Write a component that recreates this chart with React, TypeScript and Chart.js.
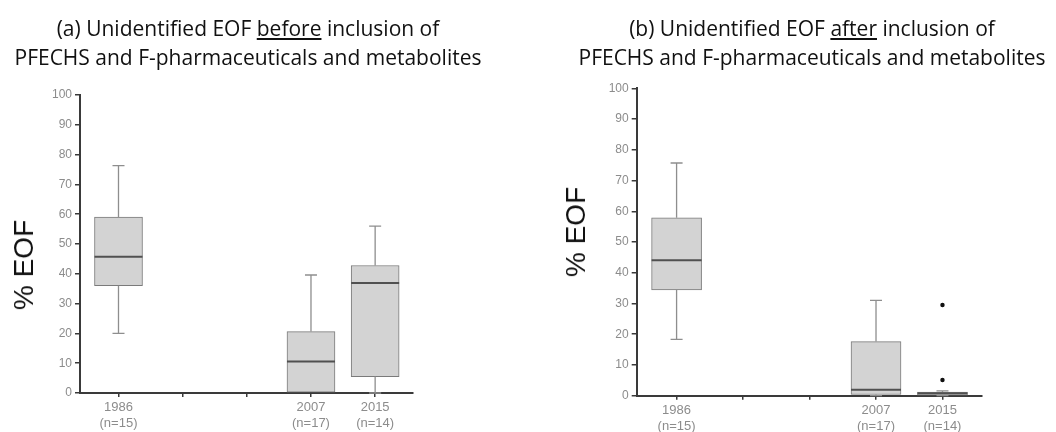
import React, { useEffect, useRef } from "react";
import { Chart, registerables } from "chart.js";

Chart.register(...registerables);

// ---- data ----
const categories = ["1986", "", "", "2007", "2015"];
const sampleSizes = ["(n=15)", "", "", "(n=17)", "(n=14)"];
const boxPositions = [0, 3, 4];

const beforeMin = [20, 0, 0];
const beforeQ1 = [36, 0, 5.5];
const beforeMedian = [45.7, 10.6, 36.9];
const beforeQ3 = [59, 20.6, 42.8];
const beforeMax = [76.3, 39.6, 56];
const beforeOutlierX: number[] = [];
const beforeOutlierY: number[] = [];

const afterMin = [18.3, 0, 0];
const afterQ1 = [34.4, 0.4, 0.2];
const afterMedian = [44.1, 1.9, 0.8];
const afterQ3 = [57.9, 17.6, 1.2];
const afterMax = [75.7, 31, 1.6];
const afterOutlierX = [4, 4];
const afterOutlierY = [29.5, 5.1];

const yMin = 0;
const yMax = 100;
const yStep = 10;

type Area = { left: number; right: number; top: number; bottom: number };

type PanelProps = {
  left: number;
  area: Area;
  boxWidth: number;
  min: number[];
  q1: number[];
  median: number[];
  q3: number[];
  max: number[];
  outX: number[];
  outY: number[];
};

const W = 528;
const H = 432;

function BoxPanel(props: PanelProps) {
  const ref = useRef<HTMLCanvasElement | null>(null);
  useEffect(() => {
    const canvas = ref.current;
    if (!canvas) return;
    const { area, boxWidth, min, q1, median, q3, max, outX, outY } = props;

    const whiskerPlugin = {
      id: "whiskers",
      afterDatasetsDraw(chart: any) {
        const { ctx } = chart;
        const xs = chart.scales.x;
        const ys = chart.scales.y;
        ctx.save();
        boxPositions.forEach((p, i) => {
          const cx = xs.getPixelForValue(p);
          const half = boxWidth / 2;
          const capHalf = 6;
          ctx.strokeStyle = "#8e8e8e";
          ctx.lineWidth = 1.3;
          if (max[i] > q3[i]) {
            const a = ys.getPixelForValue(q3[i]);
            const b = ys.getPixelForValue(max[i]);
            ctx.beginPath();
            ctx.moveTo(cx, a);
            ctx.lineTo(cx, b);
            ctx.moveTo(cx - capHalf, b);
            ctx.lineTo(cx + capHalf, b);
            ctx.stroke();
          }
          if (min[i] < q1[i]) {
            const a = ys.getPixelForValue(q1[i]);
            const b = ys.getPixelForValue(min[i]);
            ctx.beginPath();
            ctx.moveTo(cx, a);
            ctx.lineTo(cx, b);
            ctx.moveTo(cx - capHalf, b);
            ctx.lineTo(cx + capHalf, b);
            ctx.stroke();
          }
          const m = ys.getPixelForValue(median[i]);
          ctx.strokeStyle = "#505050";
          ctx.lineWidth = 2;
          ctx.beginPath();
          ctx.moveTo(cx - half, m);
          ctx.lineTo(cx + half, m);
          ctx.stroke();
        });
        ctx.restore();
      },
    };

    const axisColor = "#3a3a3a";
    const labelColor = "#8c8c8c";

    const chart = new Chart(canvas, {
      type: "bar",
      data: {
        datasets: [
          {
            type: "bar",
            data: boxPositions.map((p, i) => ({ x: p, y: [q1[i], q3[i]] })) as any,
            backgroundColor: "#d3d3d3",
            borderColor: "#7a7a7a",
            borderWidth: 1,
            borderSkipped: false,
            barThickness: boxWidth,
            order: 2,
          } as any,
          {
            type: "scatter",
            data: outX.map((x, i) => ({ x, y: outY[i] })),
            pointRadius: 2.2,
            backgroundColor: "#111111",
            borderWidth: 0,
            order: 1,
          } as any,
        ],
      },
      options: {
        responsive: false,
        animation: false,
        events: [],
        layout: {
          padding: { left: 0, top: area.top, right: W - area.right, bottom: 0 },
        },
        plugins: {
          legend: { display: false },
          tooltip: { enabled: false },
          title: { display: false },
        },
        scales: {
          x: {
            type: "linear",
            min: -0.6,
            max: 4.59,
            offset: false,
            grid: {
              offset: false,
              drawOnChartArea: false,
              drawTicks: true,
              tickLength: 4,
              color: axisColor,
              lineWidth: 1.5,
            },
            border: { display: true, color: axisColor, width: 2 },
            ticks: {
              autoSkip: false,
              maxRotation: 0,
              color: labelColor,
              padding: 3,
              font: { family: "'Liberation Sans', Arial, sans-serif", size: 13 },
              callback: (v: any) => {
                const i = Math.round(Number(v));
                const c = categories[i];
                return c ? [c, sampleSizes[i]] : "";
              },
            },
            afterBuildTicks: (s: any) => {
              s.ticks = categories.map((_, i) => ({ value: i }));
            },
            afterFit: (s: any) => {
              s.height = H - area.bottom;
            },
          } as any,
          y: {
            type: "linear",
            min: yMin,
            max: yMax,
            ticks: {
              stepSize: yStep,
              color: labelColor,
              padding: 3,
              font: { family: "'Liberation Sans', Arial, sans-serif", size: 12 },
            },
            grid: {
              drawOnChartArea: false,
              drawTicks: true,
              tickLength: 5,
              color: axisColor,
              lineWidth: 1.5,
            },
            border: { display: true, color: axisColor, width: 2 },
            afterFit: (s: any) => {
              s.width = area.left;
            },
          } as any,
        },
      },
      plugins: [whiskerPlugin],
    });
    return () => chart.destroy();
  }, []);

  return (
    <canvas
      ref={ref}
      width={W}
      height={H}
      style={{ position: "absolute", left: props.left, top: 0, width: W, height: H }}
    />
  );
}

function Title({ cx, word, rest }: { cx: number; word: string; rest: string }) {
  return (
    <div
      style={{
        position: "absolute",
        left: cx - 300,
        top: 14,
        width: 600,
        textAlign: "center",
        fontFamily: "'Open Sans', sans-serif",
        fontSize: 21,
        lineHeight: "29px",
        color: "#111",
        whiteSpace: "nowrap",
      }}
    >
      <div>
        {"(" + rest + ") Unidentified EOF "}
        <span style={{ textDecoration: "underline" }}>{word}</span>
        {" inclusion of"}
      </div>
      <div>PFECHS and F-pharmaceuticals and metabolites</div>
    </div>
  );
}

function YLabel({ cx, cy }: { cx: number; cy: number }) {
  return (
    <div
      style={{
        position: "absolute",
        left: cx,
        top: cy,
        transform: "translate(-50%, -50%) rotate(-90deg)",
        fontFamily: "'Liberation Sans', Arial, sans-serif",
        fontSize: 28,
        lineHeight: 1,
        color: "#111",
        whiteSpace: "nowrap",
      }}
    >
      % EOF
    </div>
  );
}

export default function App() {
  return (
    <div
      style={{
        position: "absolute",
        left: 0,
        top: 0,
        width: 1056,
        height: 432,
        background: "#fff",
        overflow: "hidden",
      }}
    >
      <BoxPanel
        left={0}
        area={{ left: 80, right: 413, top: 95, bottom: 393 }}
        boxWidth={48}
        min={beforeMin}
        q1={beforeQ1}
        median={beforeMedian}
        q3={beforeQ3}
        max={beforeMax}
        outX={beforeOutlierX}
        outY={beforeOutlierY}
      />
      <BoxPanel
        left={528}
        area={{ left: 108.7, right: 453.7, top: 88.3, bottom: 395.7 }}
        boxWidth={50}
        min={afterMin}
        q1={afterQ1}
        median={afterMedian}
        q3={afterQ3}
        max={afterMax}
        outX={afterOutlierX}
        outY={afterOutlierY}
      />
      <Title cx={248} word="before" rest="a" />
      <Title cx={812} word="after" rest="b" />
      <YLabel cx={24} cy={265} />
      <YLabel cx={576} cy={232} />
    </div>
  );
}
